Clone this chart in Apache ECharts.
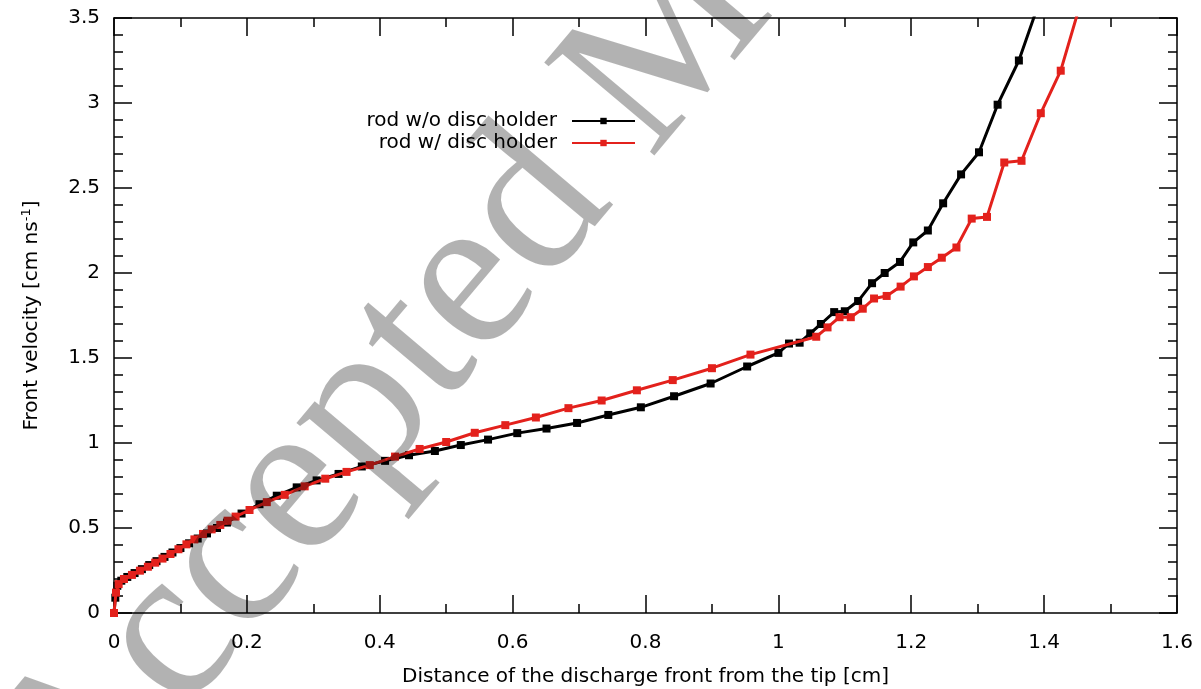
<!DOCTYPE html>
<html>
<head>
<meta charset="utf-8">
<script src="https://cdn.jsdelivr.net/npm/echarts@6/dist/echarts.min.js"></script>
<style>
html,body{margin:0;padding:0;background:#fff;}
#chart{width:1201px;height:689px;}
</style>
</head>
<body>
<div id="chart"></div>
<script>
// Data
const blackX = [0,0.002,0.005,0.011,0.02,0.031,0.042,0.053,0.064,0.076,0.088,0.1,0.113,0.126,0.14,0.155,0.17,0.192,0.219,0.245,0.275,0.305,0.338,0.373,0.408,0.444,0.483,0.522,0.563,0.607,0.651,0.697,0.744,0.793,0.843,0.898,0.953,1.0,1.016,1.032,1.048,1.064,1.084,1.1,1.12,1.141,1.16,1.183,1.203,1.225,1.248,1.275,1.302,1.33,1.362,1.395];
const blackY = [0,0.09,0.16,0.19,0.212,0.235,0.258,0.282,0.305,0.33,0.356,0.382,0.41,0.438,0.468,0.5,0.532,0.585,0.64,0.69,0.739,0.78,0.818,0.862,0.895,0.928,0.953,0.988,1.02,1.058,1.085,1.118,1.165,1.21,1.275,1.35,1.45,1.53,1.585,1.59,1.645,1.7,1.77,1.775,1.835,1.94,2.0,2.065,2.18,2.25,2.41,2.58,2.71,2.99,3.25,3.62];
const redX = [0,0.003,0.007,0.015,0.027,0.039,0.051,0.062,0.073,0.085,0.097,0.109,0.121,0.134,0.147,0.16,0.171,0.183,0.204,0.23,0.257,0.287,0.318,0.35,0.385,0.423,0.46,0.5,0.543,0.589,0.635,0.684,0.734,0.787,0.841,0.9,0.958,1.057,1.074,1.092,1.109,1.127,1.144,1.163,1.184,1.204,1.225,1.246,1.268,1.291,1.314,1.34,1.366,1.395,1.425,1.458];
const redY = [0,0.12,0.17,0.2,0.224,0.249,0.272,0.296,0.32,0.347,0.375,0.404,0.433,0.465,0.492,0.518,0.543,0.567,0.606,0.652,0.695,0.745,0.79,0.83,0.87,0.92,0.965,1.006,1.06,1.105,1.15,1.205,1.25,1.31,1.37,1.44,1.52,1.625,1.68,1.74,1.74,1.79,1.85,1.865,1.92,1.98,2.035,2.09,2.15,2.32,2.33,2.65,2.66,2.94,3.19,3.63];
const seriesNames = ['rod w/o disc holder', 'rod w/ disc holder'];
const xTitle = 'Distance of the discharge front from the tip [cm]';
const watermarkText = 'Accepted Manuscript';

const zip = (xs, ys) => xs.map((x, i) => [x, ys[i]]);
const FONT = '"DejaVu Sans", Arial, Helvetica, sans-serif';
const FS = 20;
const RED = '#e3211c';

const chart = echarts.init(document.getElementById('chart'), null, {renderer: 'canvas'});

const axisCommon = {
  type: 'value',
  axisLine: {show: true, onZero: false, lineStyle: {color: '#000', width: 1.5}},
  axisTick: {show: true, inside: true, length: 18, lineStyle: {color: '#000', width: 1.5}},
  minorTick: {show: true, length: 9, lineStyle: {color: '#000', width: 1.5}},
  splitLine: {show: false},
  minorSplitLine: {show: false}
};

function legendFor(name, top) {
  return {
    data: [name],
    right: 565,
    top: top,
    orient: 'vertical',
    align: 'right',
    padding: 0,
    itemWidth: 63,
    itemHeight: 8,
    selectedMode: false,
    textStyle: {fontSize: FS, color: '#000', fontFamily: FONT, padding: [0, 10, 0, 0]}
  };
}

chart.setOption({
  animation: false,
  backgroundColor: '#fff',
  grid: {left: 114, right: 24, top: 18, bottom: 76, containLabel: false, outerBoundsMode: 'none'},
  legend: [legendFor(seriesNames[0], 111), legendFor(seriesNames[1], 133)],
  xAxis: [
    Object.assign({}, axisCommon, {
      position: 'bottom', min: 0, max: 1.6, interval: 0.2,
      minorTick: Object.assign({}, axisCommon.minorTick, {splitNumber: 2}),
      axisLabel: {fontSize: FS, color: '#000', fontFamily: FONT, margin: 20},
      name: xTitle, nameLocation: 'middle', nameGap: 54,
      nameTextStyle: {fontSize: FS, color: '#000', fontFamily: FONT}
    }),
    Object.assign({}, axisCommon, {
      position: 'top', min: 0, max: 1.6, interval: 0.2,
      minorTick: Object.assign({}, axisCommon.minorTick, {splitNumber: 2}),
      axisLabel: {show: false}
    })
  ],
  yAxis: [
    Object.assign({}, axisCommon, {
      position: 'left', min: 0, max: 3.5, interval: 0.5,
      minorTick: Object.assign({}, axisCommon.minorTick, {splitNumber: 5}),
      axisLabel: {fontSize: FS, color: '#000', fontFamily: FONT, margin: 14},
      name: 'Front velocity [cm ns{sup|-1}]', nameLocation: 'middle', nameGap: 71,
      nameTextStyle: {fontSize: FS, color: '#000', fontFamily: FONT,
        rich: {sup: {fontSize: 13, color: '#000', fontFamily: FONT, verticalAlign: 'top', padding: [0, 0, 10, 0]}}}
    }),
    Object.assign({}, axisCommon, {
      position: 'right', min: 0, max: 3.5, interval: 0.5,
      minorTick: Object.assign({}, axisCommon.minorTick, {splitNumber: 5}),
      axisLabel: {show: false}
    })
  ],
  series: [
    {
      name: seriesNames[0], type: 'line', xAxisIndex: 0, yAxisIndex: 0,
      data: zip(blackX, blackY), clip: true,
      symbol: 'rect', symbolSize: 8, showSymbol: true,
      lineStyle: {color: '#000', width: 3},
      itemStyle: {color: '#000'}, z: 2
    },
    {
      name: seriesNames[1], type: 'line', xAxisIndex: 0, yAxisIndex: 0,
      data: zip(redX, redY), clip: true,
      symbol: 'rect', symbolSize: 8, showSymbol: true,
      lineStyle: {color: RED, width: 3},
      itemStyle: {color: RED}, z: 3
    }
  ],
  graphic: [{
    type: 'text', silent: true, z: 100,
    x: -49, y: 729, rotation: 0.87,
    style: {text: watermarkText, font: '220px "Liberation Serif", "Times New Roman", serif',
      fill: 'rgba(0,0,0,0.3)', align: 'left', verticalAlign: 'top'}
  }]
});
</script>
</body>
</html>
